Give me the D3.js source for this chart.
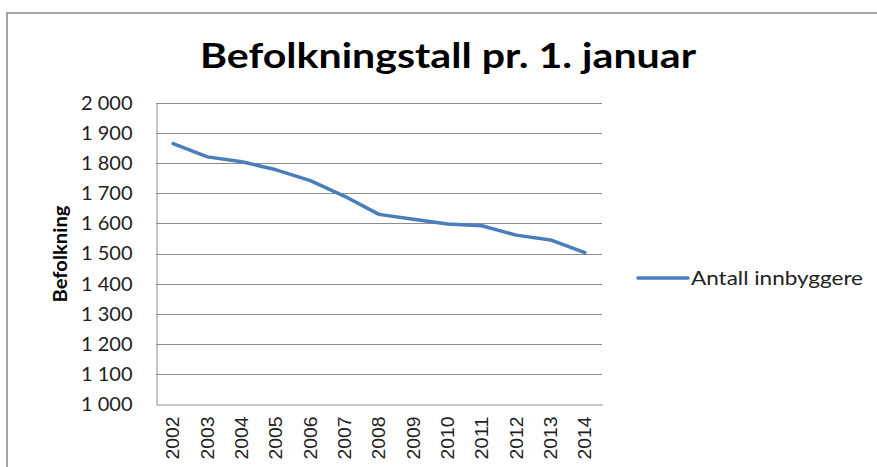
<!DOCTYPE html>
<html>
<head>
<meta charset="utf-8">
<script src="https://cdn.jsdelivr.net/npm/d3@7"></script>
<style>
  body { margin: 0; background: #fff; }
</style>
</head>
<body>
<div id="chart"></div>
<script>
// Data
const years = [2002, 2003, 2004, 2005, 2006, 2007, 2008, 2009, 2010, 2011, 2012, 2013, 2014];
const population = [1865, 1821, 1805, 1778, 1742, 1690, 1630, 1614, 1598, 1592, 1561, 1545, 1503];
const yTicks = [1000, 1100, 1200, 1300, 1400, 1500, 1600, 1700, 1800, 1900, 2000];
const seriesName = "Antall innbyggere";

const width = 877;
const height = 467;
const plot = { left: 156, right: 602, top: 103, bottom: 404 };

const locale = d3.formatLocale({ decimal: ",", thousands: "\u00a0", grouping: [3], currency: ["", ""] });
const fmt = locale.format(",d");

const svg = d3
  .select("#chart")
  .append("svg")
  .attr("width", width)
  .attr("height", height);

// Chart border
svg
  .append("rect")
  .attr("x", 7)
  .attr("y", 13)
  .attr("width", 880)
  .attr("height", 470)
  .attr("fill", "none")
  .attr("stroke", "#878787")
  .attr("stroke-width", 1.5);

// Title
svg
  .append("text")
  .attr("x", 448)
  .attr("y", 68)
  .attr("text-anchor", "middle")
  .style("font-family", "Lato, sans-serif")
  .style("font-weight", "bold")
  .style("font-size", "34px")
  .attr("textLength", 496)
  .attr("lengthAdjust", "spacingAndGlyphs")
  .text("Befolkningstall pr. 1. januar");

// Scales
const xScale = d3
  .scaleBand()
  .domain(years)
  .range([plot.left, plot.right]);

const yScale = d3
  .scaleLinear()
  .domain([1000, 2000])
  .range([plot.bottom, plot.top]);

// Gridlines
svg
  .append("g")
  .selectAll("line")
  .data(yTicks.slice(1))
  .join("line")
  .attr("x1", plot.left)
  .attr("x2", plot.right)
  .attr("y1", (d) => Math.round(yScale(d)) + 0.5)
  .attr("y2", (d) => Math.round(yScale(d)) + 0.5)
  .attr("stroke", "#8c8c8c")
  .attr("stroke-width", 1);

// Axes
const yAxis = d3.axisLeft(yScale).tickValues(yTicks).tickFormat(fmt).tickSize(0).tickPadding(24);
const yAxisGroup = svg
  .append("g")
  .attr("transform", `translate(${plot.left + 0.5}, 0)`)
  .call(yAxis);
yAxisGroup.select(".domain").attr("stroke", "#8c8c8c");
yAxisGroup
  .selectAll("text")
  .attr("fill", "#222")
  .style("font-family", "Lato, sans-serif")
  .style("font-size", "20px");

const xAxis = d3.axisBottom(xScale).tickSize(0).tickSizeOuter(0);
const xAxisGroup = svg
  .append("g")
  .attr("transform", `translate(0, ${plot.bottom + 0.5})`)
  .call(xAxis);
xAxisGroup.select(".domain").attr("stroke", "#8c8c8c");
xAxisGroup
  .selectAll("text")
  .attr("fill", "#222")
  .attr("transform", "rotate(-90)")
  .attr("x", -12)
  .attr("y", 0)
  .attr("dy", "0.35em")
  .attr("text-anchor", "end")
  .attr("textLength", 43)
  .attr("lengthAdjust", "spacingAndGlyphs")
  .style("font-family", "'Liberation Sans', Arial, sans-serif")
  .style("font-size", "18px");

// Y label
svg
  .append("text")
  .attr("transform", `translate(67, 254) rotate(-90)`)
  .attr("text-anchor", "middle")
  .style("font-family", "Lato, sans-serif")
  .style("font-weight", "bold")
  .style("font-size", "18px")
  .attr("textLength", 97)
  .attr("lengthAdjust", "spacingAndGlyphs")
  .text("Befolkning");

// Line
const line = d3
  .line()
  .x((d, i) => xScale(years[i]) + xScale.bandwidth() / 2)
  .y((d) => yScale(d));

svg
  .append("path")
  .datum(population)
  .attr("fill", "none")
  .attr("stroke", "#4a7ebb")
  .attr("stroke-width", 3.5)
  .attr("stroke-linejoin", "round")
  .attr("stroke-linecap", "round")
  .attr("d", line);

// Legend
const legend = svg.append("g").attr("transform", "translate(638, 278)");
legend
  .append("line")
  .attr("x1", 0)
  .attr("x2", 50)
  .attr("stroke", "#4a7ebb")
  .attr("stroke-width", 3.5)
  .attr("stroke-linecap", "round");
legend
  .append("text")
  .attr("x", 53)
  .attr("dy", "0.35em")
  .attr("fill", "#222")
  .style("font-family", "Lato, sans-serif")
  .style("font-size", "20px")
  .attr("textLength", 172)
  .attr("lengthAdjust", "spacingAndGlyphs")
  .text(seriesName);
</script>
</body>
</html>
